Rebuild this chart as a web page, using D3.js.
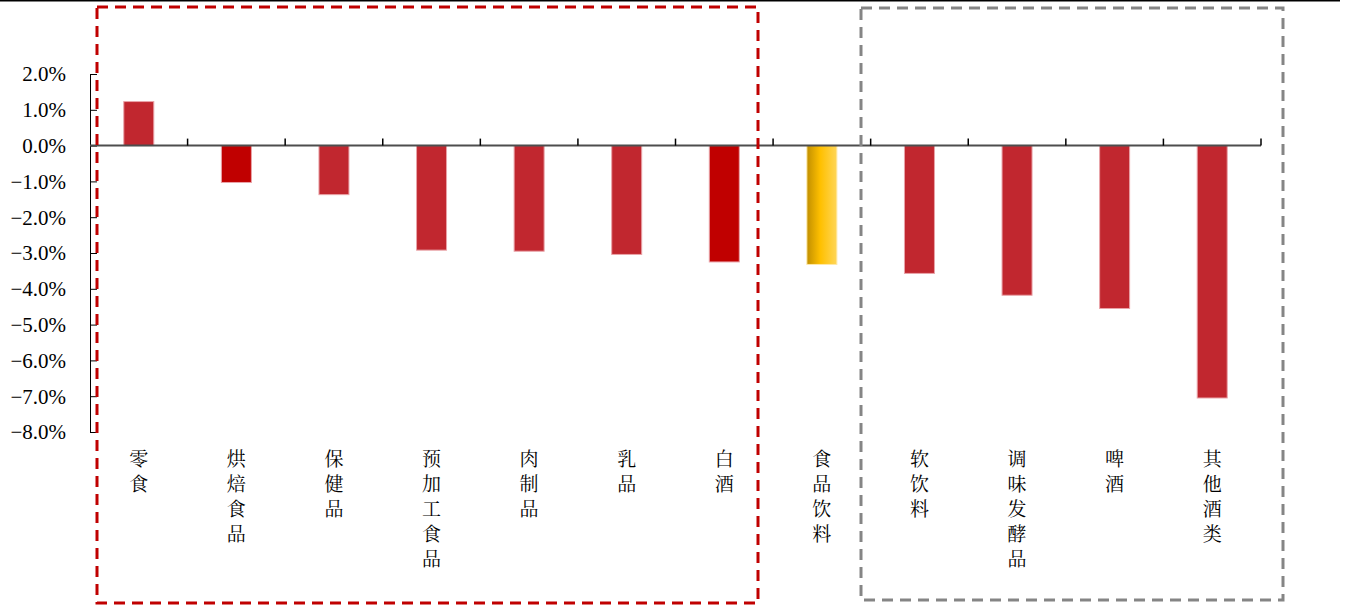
<!DOCTYPE html>
<html>
<head>
<meta charset="utf-8">
<script src="https://cdn.jsdelivr.net/npm/d3@7"></script>
<style>
  body { margin: 0; background: #fff; }
  svg { display: block; }
</style>
</head>
<body>
<svg id="canvas"></svg>
<script>
const categories = ["零食","烘焙食品","保健品","预加工食品","肉制品","乳品","白酒","食品饮料","软饮料","调味发酵品","啤酒","其他酒类"];
const values = [1.23, -1.03, -1.37, -2.92, -2.95, -3.04, -3.25, -3.32, -3.57, -4.18, -4.55, -7.05];
const yTicks = [2, 1, 0, -1, -2, -3, -4, -5, -6, -7, -8];
const darkRed = ["烘焙食品", "白酒"];
const highlight = "食品饮料";

const width = 1348;
const height = 613;

const canvas = d3.select('#canvas')
    .attr('width', width)
    .attr('height', height);

const xScale = d3.scaleBand()
    .domain(categories)
    .range([90, 1261]);

const yScale = d3.scaleLinear()
    .domain([-8, 2])
    .range([432, 74]);

// gradient for the highlighted bar
const defs = canvas.append('defs');
const grad = defs.append('linearGradient')
    .attr('id', 'gold')
    .attr('x1', '0%').attr('x2', '100%')
    .attr('y1', '0%').attr('y2', '0%');
grad.append('stop').attr('offset', '0%').attr('stop-color', '#C18F00');
grad.append('stop').attr('offset', '45%').attr('stop-color', '#FFC000');
grad.append('stop').attr('offset', '100%').attr('stop-color', '#FFD658');

// top border line
canvas.append('line')
    .attr('x1', 0).attr('x2', 1340)
    .attr('y1', 0.5).attr('y2', 0.5)
    .attr('stroke', '#000').attr('stroke-width', 2);

// y axis
const yAxis = d3.axisRight(yScale)
    .tickValues(yTicks)
    .tickSize(7)
    .tickFormat('');
const yg = canvas.append('g')
    .attr('transform', 'translate(90,0)')
    .call(yAxis);
yg.select('.domain').attr('stroke', '#000').attr('d', 'M0.5,' + yScale(2) + 'V' + yScale(-8));
yg.selectAll('.tick line').attr('stroke', '#000');

canvas.append('g')
    .selectAll('text')
    .data(yTicks)
    .enter()
    .append('text')
    .attr('x', 66)
    .attr('y', d => yScale(d))
    .attr('dy', '0.35em')
    .attr('text-anchor', 'end')
    .attr('fill', '#000')
    .style('font-family', "'Liberation Serif'")
    .style('font-size', '21px')
    .text(d => d3.format('.1f')(d) + '%');

// bars
const step = xScale.step();
const bw = 30;
canvas.append('g')
    .selectAll('rect')
    .data(categories)
    .enter()
    .append('rect')
    .attr('x', (c) => xScale(c) + (step - bw) / 2)
    .attr('y', (c, i) => yScale(Math.max(0, values[i])))
    .attr('width', bw)
    .attr('height', (c, i) => Math.abs(yScale(values[i]) - yScale(0)))
    .attr('fill', c => {
        if (c === highlight) return 'url(#gold)';
        if (darkRed.includes(c)) return '#C00000';
        return '#C1272F';
    })
    .attr('stroke', c => c === highlight ? '#FFE9A8' : '#E9A3A8')
    .attr('stroke-width', 1);

// x axis at zero
const xAxis = d3.axisTop(xScale).tickSize(6).tickFormat('');
const xg = canvas.append('g')
    .attr('transform', 'translate(0,' + yScale(0) + ')')
    .call(xAxis);
xg.selectAll('.tick').remove();
xg.select('.domain').attr('stroke', '#4d4d4d').attr('stroke-width', 2)
    .attr('d', 'M90,0H1261');
const boundaries = categories.map(c => xScale(c)).slice(1).concat([xScale.range()[1]]);
xg.selectAll('.btick')
    .data(boundaries)
    .enter()
    .append('line')
    .attr('x1', d => d).attr('x2', d => d)
    .attr('y1', 0).attr('y2', -7)
    .attr('stroke', '#000')
    .attr('stroke-width', 1.5);

// category labels, vertical
const labels = canvas.append('g')
    .selectAll('text')
    .data(categories)
    .enter()
    .append('text')
    .attr('text-anchor', 'middle')
    .attr('fill', '#000')
    .style('font-family', "'Noto Serif CJK SC', serif")
    .style('font-size', '19px');
labels.each(function(c) {
    const cx = xScale(c) + step / 2;
    const t = d3.select(this);
    Array.from(c).forEach((ch, k) => {
        t.append('tspan')
            .attr('x', cx)
            .attr('y', 466 + k * 25)
            .text(ch);
    });
});

// dashed frames
canvas.append('rect')
    .attr('x', 97).attr('y', 7)
    .attr('width', 661).attr('height', 596)
    .attr('fill', 'none')
    .attr('stroke', '#C00000')
    .attr('stroke-width', 3)
    .attr('stroke-dasharray', '11,7');

canvas.append('rect')
    .attr('x', 861).attr('y', 8)
    .attr('width', 422).attr('height', 592)
    .attr('fill', 'none')
    .attr('stroke', '#858585')
    .attr('stroke-width', 3)
    .attr('stroke-dasharray', '11,7');
</script>
</body>
</html>
